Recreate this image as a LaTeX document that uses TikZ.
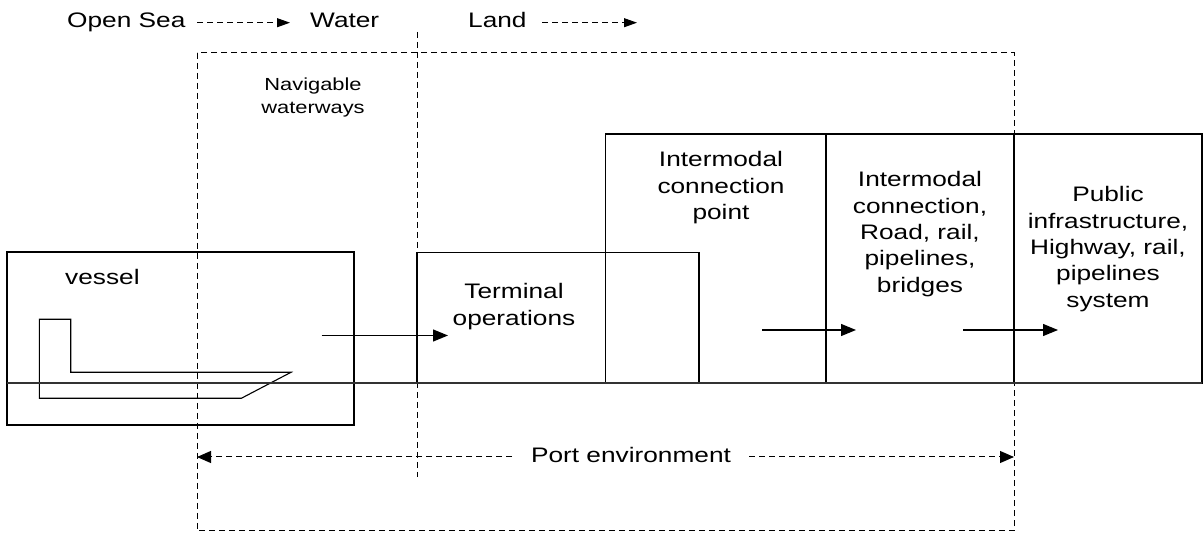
\documentclass[tikz,border=0pt]{standalone}
\usepackage{fontspec}
\setmainfont{Liberation Sans}[FakeStretch=1.25]
\usetikzlibrary{arrows.meta}
\newcommand\mlines[1]{\begin{tabular}[t]{@{}c@{}}#1\end{tabular}}
\begin{document}
\begin{tikzpicture}[x=1pt,y=-1pt,
  box/.style={draw=black, line width=1.2pt},
  dsh/.style={draw=black, line width=1pt, dash pattern=on 6pt off 4pt},
  txt/.style={inner sep=0pt, font=\fontsize{21}{26.3}\selectfont},
  small/.style={inner sep=0pt, font=\fontsize{17.5}{22.7}\selectfont},
  arr/.style={line width=1.2pt, -{Triangle[length=15pt,width=12pt]}},
  darr/.style={dsh, -{Triangle[length=14pt,width=12pt]}},
  tarr/.style={dsh, -{Triangle[length=13pt,width=9pt]}},
  ground/.style={draw=black!80, line width=1.6pt}
  ]
\useasboundingbox (0,0) rectangle (1203,534);

% top labels
\node[txt, anchor=base west] (opensea) at (67,28) {Open Sea};
\node[txt, anchor=base west] (water) at (310,28) {Water};
\node[txt, anchor=base west] (land) at (468,28) {Land};
\coordinate (t1s) at (197,22.7);
\coordinate (t1e) at (290,22.7);
\coordinate (t2s) at (542,22.7);
\coordinate (t2e) at (637,22.7);
\draw[tarr] (t1s) -- (t1e);
\draw[tarr] (t2s) -- (t2e);

% port environment dashed frame and water/land divider
\draw[dsh] (197,53) rectangle (1014,531);
\coordinate (divtop) at (417,32);
\coordinate (divbot) at (417,477);
\draw[dsh] (divtop) -- (divbot);

\node[small, anchor=base] (navig) at (313,90.7) {\mlines{Navigable\\waterways}};

% vessel
\draw[box] (7,252) rectangle (354,425);
\node[txt, anchor=base west] (vessel) at (65,285) {vessel};
\draw[box, line width=1.1pt] (39.3,319.3) -- (70.7,319.3) -- (70.7,372.3) -- (291,372.3)
  -- (241.3,398.3) -- (39.3,398.3) -- cycle;

% terminal
\draw[box] (417,252.7) rectangle (699,383);
\node[txt, anchor=base] (terminal) at (514,299) {\mlines{Terminal\\operations}};

% intermodal connection point
\draw[box] (605.5,134) rectangle (826,383);
\node[txt, anchor=base] (icp) at (721,167) {\mlines{Intermodal\\connection\\point}};

% intermodal connection
\draw[box] (826,134) rectangle (1014,383);
\node[txt, anchor=base] (ic) at (920,187) {\mlines{Intermodal\\connection,\\Road, rail,\\pipelines,\\bridges}};

% public infrastructure
\draw[box] (1014,134) rectangle (1202,383);
\node[txt, anchor=base] (pub) at (1108,202) {\mlines{Public\\infrastructure,\\Highway, rail,\\pipelines\\system}};

% ground line
\coordinate (gl) at (7,383);
\coordinate (gr) at (1202,383);
\draw[ground] (gl) -- (gr);

% flow arrows
\coordinate (a1s) at (321.7,335.5);
\coordinate (a1e) at (448,335.5);
\coordinate (a2s) at (762,330);
\coordinate (a2e) at (856,330);
\coordinate (a3s) at (963,330);
\coordinate (a3e) at (1058,330);
\draw[arr] (a1s) -- (a1e);
\draw[arr] (a2s) -- (a2e);
\draw[arr] (a3s) -- (a3e);

% port environment
\node[txt, anchor=base] (port) at (631,463) {Port environment};
\coordinate (pls) at (512,457);
\coordinate (ple) at (197,457);
\coordinate (prs) at (749,457);
\coordinate (pre) at (1014,457);
\draw[darr] (pls) -- (ple);
\draw[darr] (prs) -- (pre);
\end{tikzpicture}
\end{document}
